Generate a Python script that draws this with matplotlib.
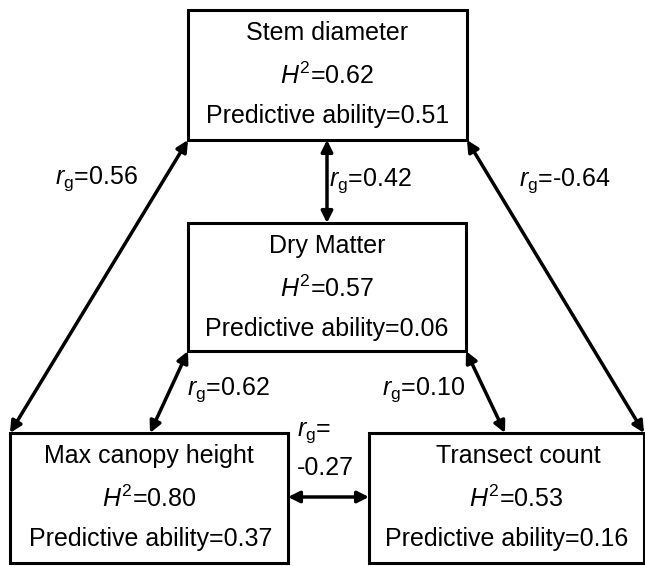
import matplotlib
matplotlib.use('Agg')
import matplotlib.pyplot as plt
from matplotlib.patches import Rectangle

plt.rcParams['font.family'] = ['Liberation Sans', 'DejaVu Sans']
plt.rcParams['mathtext.fontset'] = 'custom'
plt.rcParams['mathtext.rm'] = 'Liberation Sans'
plt.rcParams['mathtext.it'] = 'Liberation Sans:italic'
plt.rcParams['mathtext.default'] = 'regular'

# traits and their values
traits = ['Stem diameter', 'Dry Matter', 'Max canopy height', 'Transect count']
heritability = [0.62, 0.57, 0.80, 0.53]
pred_ability = [0.51, 0.06, 0.37, 0.16]

# genetic correlations between pairs of traits (index pairs into traits)
corr_pairs = [(0, 2), (0, 1), (0, 3), (1, 2), (1, 3), (2, 3)]
corr_values = ['0.56', '0.42', '-0.64', '0.62', '0.10', '-0.27']

# layout (pixel coords, y downward)
boxes = [(188, 10, 279, 130), (188, 223, 278, 128), (10, 433, 278, 130), (369, 433, 275, 130)]
line_dy = [23, 66, 106]
# small horizontal nudges of the text lines in each box
line_dx = [(0, 0, 0), (0, 0, 0), (0, 0, 2), (12, 10, 0)]
arrow_ends = [((188, 140), (10, 433)),
              ((327, 140), (327, 223)),
              ((467, 140), (644, 433)),
              ((188, 351), (150, 433)),
              ((466, 351), (505, 433)),
              ((288, 497), (369, 497))]
label_pos = [(96, 179), (370, 181), (565, 181), (228, 390), (424, 390), (297, 450)]

FS = 18

fig = plt.figure(figsize=(6.45, 5.66), dpi=100)
ax = fig.add_axes([0, 0, 1, 1])
ax.set_xlim(0, 645)
ax.set_ylim(566, 0)
ax.axis('off')

for i, name in enumerate(traits):
    x, y, w, h = boxes[i]
    ax.add_patch(Rectangle((x, y), w, h, fill=False, lw=2.2, edgecolor='black'))
    cx = x + w / 2
    lines = [name, f'$\\mathit{{H}}^2$={heritability[i]:.2f}', f'Predictive ability={pred_ability[i]:.2f}']
    for line, dx, dy in zip(lines, line_dx[i], line_dy):
        ax.text(cx + dx, y + dy, line, ha='center', va='center', fontsize=FS)

for (p0, p1), val, (lx, ly), pair in zip(arrow_ends, corr_values, label_pos, corr_pairs):
    ax.annotate('', xy=p1, xytext=p0,
                arrowprops=dict(arrowstyle='<|-|>', lw=2.5, color='black',
                                mutation_scale=17, shrinkA=0, shrinkB=0))
    if pair == (2, 3):
        ax.text(lx, ly, f'$\\mathit{{r}}_g$=\n{val}', ha='left', va='center',
                fontsize=FS, linespacing=1.55)
    else:
        ax.text(lx, ly, f'$\\mathit{{r}}_g$={val}', ha='center', va='center', fontsize=FS)

fig.savefig('out.png', dpi=100)
